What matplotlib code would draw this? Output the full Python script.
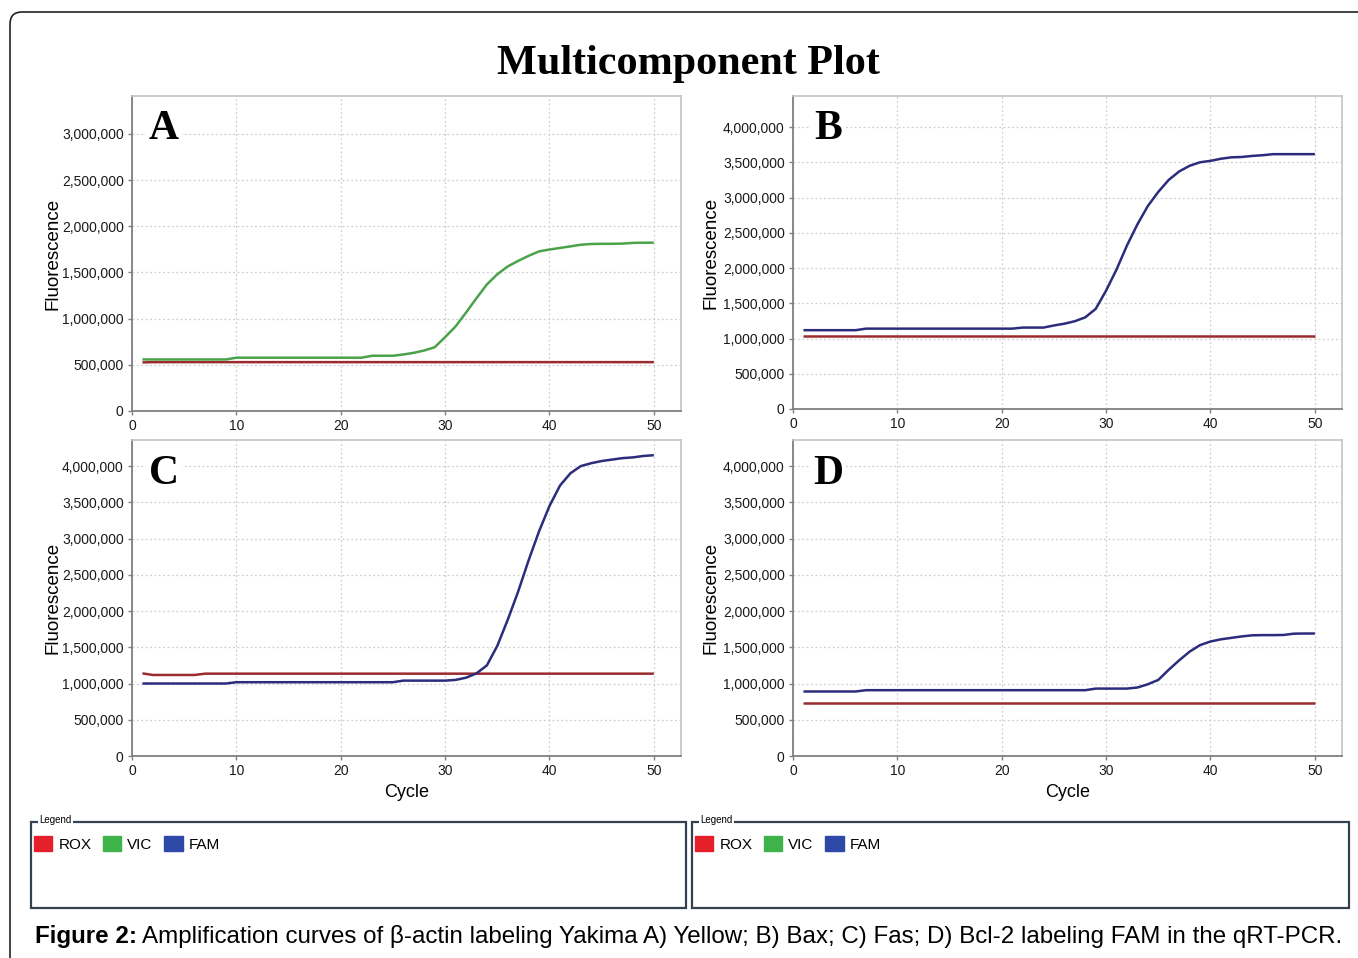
import matplotlib
matplotlib.use('Agg')
import matplotlib.pyplot as plt
from matplotlib.patches import FancyBboxPatch, Rectangle, Patch
from matplotlib.transforms import IdentityTransform
from matplotlib.ticker import FuncFormatter

# -- DATA --
cycles = list(range(1, 51))

# panel A (beta-actin, VIC)
a_rox = [
    526000, 529000, 529000, 529000, 529000, 529000, 529000, 529000, 529000, 529000,
    529000, 529000, 529000, 529000, 529000, 529000, 529000, 529000, 529000, 529000,
    529000, 529000, 529000, 529000, 529000, 529000, 529000, 529000, 529000, 529000,
    529000, 529000, 529000, 529000, 529000, 529000, 529000, 529000, 529000, 529000,
    529000, 529000, 529000, 529000, 529000, 529000, 529000, 529000, 529000, 529000]
a_vic = [
    558000, 558000, 558000, 558000, 558000, 558000, 558000, 558000, 558000, 577000,
    577000, 577000, 577000, 577000, 577000, 577000, 577000, 577000, 577000, 577000,
    577000, 577000, 598000, 598000, 598000, 612000, 630000, 655000, 690000, 800000,
    915000, 1065000, 1220000, 1370000, 1480000, 1565000, 1625000, 1680000, 1728000, 1748000,
    1765000, 1782000, 1800000, 1808000, 1810000, 1810000, 1812000, 1820000, 1822000, 1822000]

# panel B (Bax, FAM)
b_rox = [
    1033000, 1033000, 1033000, 1033000, 1033000, 1033000, 1033000, 1033000, 1033000, 1033000,
    1033000, 1033000, 1033000, 1033000, 1033000, 1033000, 1033000, 1033000, 1033000, 1033000,
    1033000, 1033000, 1033000, 1033000, 1033000, 1033000, 1033000, 1033000, 1033000, 1033000,
    1033000, 1033000, 1033000, 1033000, 1033000, 1033000, 1033000, 1033000, 1033000, 1033000,
    1033000, 1033000, 1033000, 1033000, 1033000, 1033000, 1033000, 1033000, 1033000, 1033000]
b_fam = [
    1118000, 1118000, 1118000, 1118000, 1118000, 1118000, 1140000, 1140000, 1140000, 1140000,
    1140000, 1140000, 1140000, 1140000, 1140000, 1140000, 1140000, 1140000, 1140000, 1140000,
    1140000, 1155000, 1155000, 1155000, 1185000, 1210000, 1245000, 1300000, 1420000, 1680000,
    1980000, 2320000, 2620000, 2880000, 3080000, 3250000, 3370000, 3450000, 3500000, 3520000,
    3550000, 3570000, 3575000, 3590000, 3600000, 3615000, 3615000, 3615000, 3615000, 3615000]

# panel C (Fas, FAM)
c_rox = [
    1140000, 1118000, 1118000, 1118000, 1118000, 1118000, 1136000, 1136000, 1136000, 1136000,
    1136000, 1136000, 1136000, 1136000, 1136000, 1136000, 1136000, 1136000, 1136000, 1136000,
    1136000, 1136000, 1136000, 1136000, 1136000, 1136000, 1136000, 1136000, 1136000, 1136000,
    1136000, 1136000, 1136000, 1136000, 1136000, 1136000, 1136000, 1136000, 1136000, 1136000,
    1136000, 1136000, 1136000, 1136000, 1136000, 1136000, 1136000, 1136000, 1136000, 1136000]
c_fam = [
    1000000, 1000000, 1000000, 1000000, 1000000, 1000000, 1000000, 1000000, 1000000, 1018000,
    1018000, 1018000, 1018000, 1018000, 1018000, 1018000, 1018000, 1018000, 1018000, 1018000,
    1018000, 1018000, 1018000, 1018000, 1018000, 1040000, 1040000, 1040000, 1040000, 1040000,
    1050000, 1080000, 1140000, 1250000, 1520000, 1880000, 2270000, 2700000, 3100000, 3450000,
    3730000, 3900000, 4000000, 4040000, 4070000, 4090000, 4110000, 4120000, 4140000, 4150000]

# panel D (Bcl-2, FAM)
d_rox = [
    725000, 725000, 725000, 725000, 725000, 725000, 725000, 725000, 725000, 725000,
    725000, 725000, 725000, 725000, 725000, 725000, 725000, 725000, 725000, 725000,
    725000, 725000, 725000, 725000, 725000, 725000, 725000, 725000, 725000, 725000,
    725000, 725000, 725000, 725000, 725000, 725000, 725000, 725000, 725000, 725000,
    725000, 725000, 725000, 725000, 725000, 725000, 725000, 725000, 725000, 725000]
d_fam = [
    890000, 890000, 890000, 890000, 890000, 890000, 908000, 908000, 908000, 908000,
    908000, 908000, 908000, 908000, 908000, 908000, 908000, 908000, 908000, 908000,
    908000, 908000, 908000, 908000, 908000, 908000, 908000, 908000, 930000, 930000,
    930000, 930000, 945000, 990000, 1050000, 1190000, 1320000, 1440000, 1530000, 1580000,
    1610000, 1630000, 1650000, 1665000, 1668000, 1668000, 1670000, 1688000, 1690000, 1690000]

x_ticks = [0, 10, 20, 30, 40, 50]
a_yticks = [0, 500000, 1000000, 1500000, 2000000, 2500000, 3000000]
bcd_yticks = [0, 500000, 1000000, 1500000, 2000000, 2500000, 3000000, 3500000, 4000000]

dyes = ['ROX', 'VIC', 'FAM']
dye_colors = ['#e5202a', '#3db34a', '#2d48a6']

caption_bold = 'Figure 2:'
caption_text = ('Amplification curves of \u03b2-actin labeling Yakima A) Yellow; '
                'B) Bax; C) Fas; D) Bcl-2 labeling FAM in the qRT-PCR.')

# -- STYLE --
W, H = 1358, 958
ROX_LINE = '#9c2b2e'
VIC_LINE = '#4aa34a'
FAM_LINE = '#2c2c7c'
plt.rcParams['font.family'] = ['Liberation Sans', 'DejaVu Sans']

fig = plt.figure(figsize=(W / 100, H / 100), dpi=100)
fig.patch.set_facecolor('white')


def px_rect(left, top, right, bottom):
    return [left / W, 1 - bottom / H, (right - left) / W, (bottom - top) / H]


# outer rounded frame (runs off the right and bottom edge)
fig.add_artist(FancyBboxPatch((10, -60), 1420, H - 12 + 60,
                              boxstyle='round,pad=0,rounding_size=12',
                              transform=IdentityTransform(), fill=False,
                              ec='#222222', lw=1.2))

fig.text(688 / W, 1 - 64 / H, 'Multicomponent Plot', fontsize=30.3,
         fontweight='bold', family='Liberation Serif', ha='center', va='center')

panels = [
    ('A', px_rect(132, 96, 681, 411), [(a_rox, ROX_LINE), (a_vic, VIC_LINE)],
     3410000, a_yticks, False, -0.129),
    ('B', px_rect(793, 96, 1342, 409), [(b_rox, ROX_LINE), (b_fam, FAM_LINE)],
     4440000, bcd_yticks, False, -0.133),
    ('C', px_rect(132, 440, 681, 756), [(c_rox, ROX_LINE), (c_fam, FAM_LINE)],
     4360000, bcd_yticks, True, -0.129),
    ('D', px_rect(793, 440, 1342, 756), [(d_rox, ROX_LINE), (d_fam, FAM_LINE)],
     4360000, bcd_yticks, True, -0.133),
]

for letter, rect, series, ymax, yticks, show_cycle, ylab_x in panels:
    ax = fig.add_axes(rect)
    for values, color in series:
        ax.plot(cycles, values, color=color, lw=1.8, solid_capstyle='butt')
    ax.set_xlim(0, 52.6)
    ax.set_ylim(0, ymax)
    ax.set_xticks(x_ticks)
    ax.set_yticks(yticks)
    ax.yaxis.set_major_formatter(FuncFormatter(lambda v, _p: f'{v:,.0f}'))
    ax.grid(True, ls=(0, (1.5, 2)), color='#cfcfcf', lw=0.9)
    ax.set_axisbelow(True)
    for side in ['left', 'bottom']:
        ax.spines[side].set_color('#808080')
        ax.spines[side].set_linewidth(1.3)
    for side in ['top', 'right']:
        ax.spines[side].set_color('#c4c4c4')
        ax.spines[side].set_linewidth(1.2)
    ax.tick_params(direction='out', length=3, width=1, color='#808080',
                   labelsize=10, labelcolor='#1a1a1a', pad=3)
    ax.set_ylabel('Fluorescence', fontsize=13.5)
    ax.yaxis.set_label_coords(ylab_x, 0.5)
    if show_cycle:
        ax.set_xlabel('Cycle', fontsize=13, labelpad=4)
    ax.text(0.058 if letter in 'AC' else 0.064, 0.862, letter, transform=ax.transAxes,
            fontsize=30, fontweight='bold', family='Liberation Serif',
            ha='center', va='baseline',
            bbox=dict(fc='white', ec='none', pad=2))

# -- LEGEND BOXES --
handles = [Patch(facecolor=c, edgecolor=c) for c in dye_colors]
for x0, x1 in [(31, 686), (692, 1349)]:
    fig.add_artist(Rectangle((x0, H - 908), x1 - x0, 86, transform=IdentityTransform(),
                             fill=False, ec='#34414f', lw=1.6))
    fig.text((x0 + 8) / W, 1 - 820 / H, 'Legend', fontsize=7, va='center',
             bbox=dict(fc='white', ec='none', pad=1))
    fig.legend(handles, dyes, loc='upper left',
               bbox_to_anchor=((x0 + 3) / W, 1 - 836 / H), ncol=3, frameon=False,
               fontsize=11, handlelength=1.2, handleheight=1.1,
               handletextpad=0.4, columnspacing=0.75, borderpad=0, borderaxespad=0)

# -- CAPTION --
cap = fig.text(35 / W, 1 - 937 / H, caption_bold, fontsize=17.4, fontweight='bold',
               va='center')
fig.canvas.draw()
bb = cap.get_window_extent()
fig.text((bb.x1 + 5) / W, 1 - 937 / H, caption_text, fontsize=17.4, va='center')

fig.savefig('out.png', dpi=100)
